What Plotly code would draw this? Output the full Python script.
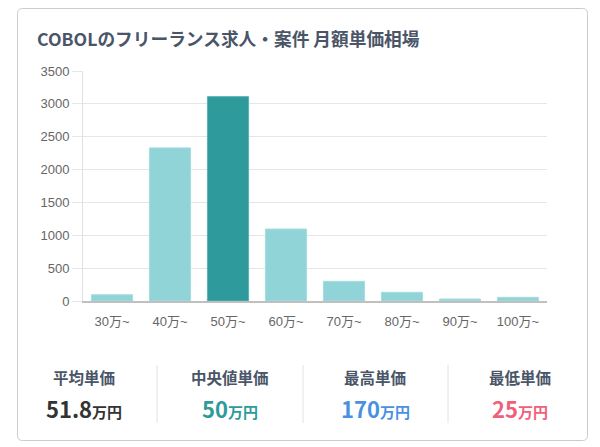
import plotly.graph_objects as go

categories = ["30万~", "40万~", "50万~", "60万~", "70万~", "80万~", "90万~", "100万~"]
counts = [95, 2330, 3110, 1095, 300, 132, 30, 56]
highlight_index = 2
y_ticks = [0, 500, 1000, 1500, 2000, 2500, 3000, 3500]

title_text = "COBOLのフリーランス求人・案件 月額単価相場"
stat_labels = ["平均単価", "中央値単価", "最高単価", "最低単価"]
stat_values = ["51.8", "50", "170", "25"]
stat_unit = "万円"
stat_colors = ["#333333", "#2e9a9c", "#4a90e2", "#f0607a"]

W, H = 600, 447
L, R, T, B = 83, 53, 71, 146
pw, ph = W - L - R, H - T - B

def px(x):
    return (x - L) / pw

def py(y):
    return (H - B - y) / ph

light = "#90d4d8"
dark = "#2e9a9c"
colors = [dark if i == highlight_index else light for i in range(len(categories))]
lines = ["#a6dde0" if i != highlight_index else "#5bb3b5" for i in range(len(categories))]

fig = go.Figure(go.Bar(
    x=categories, y=counts,
    marker=dict(color=colors, line=dict(color=lines, width=1)),
    width=0.71,
    hoverinfo="skip",
))

font_lat = "'Liberation Sans', Arial, 'Noto Sans CJK JP', sans-serif"
font_cjk = "'Noto Sans CJK JP', sans-serif"

fig.update_layout(
    width=W, height=H,
    margin=dict(l=L, r=R, t=T, b=B, pad=0),
    paper_bgcolor="white", plot_bgcolor="white",
    showlegend=False,
    xaxis=dict(
        showgrid=False, showline=True, linecolor="#c0c0c0", linewidth=1.5,
        tickfont=dict(family=font_lat, size=13, color="#666666"),
        ticks="outside", ticklen=8, tickcolor="rgba(0,0,0,0)",
        fixedrange=True,
    ),
    yaxis=dict(
        range=[0, 3500], tickvals=y_ticks, ticktext=[str(v) for v in y_ticks],
        showgrid=True, gridcolor="#e6e6e6", gridwidth=1,
        showline=True, linecolor="#e0e0e0", linewidth=1,
        zeroline=False,
        tickfont=dict(family=font_lat, size=13, color="#666666"),
        ticks="outside", ticklen=10, tickcolor="#e6e6e6", tickwidth=1,
        fixedrange=True,
    ),
)

shapes = []
x0, x1, y0, y1, r = 17.5, 587.5, 8.5, 440.5, 5
path = (f"M {px(x0+r)},{py(y0)} L {px(x1-r)},{py(y0)} "
        f"Q {px(x1)},{py(y0)} {px(x1)},{py(y0+r)} "
        f"L {px(x1)},{py(y1-r)} Q {px(x1)},{py(y1)} {px(x1-r)},{py(y1)} "
        f"L {px(x0+r)},{py(y1)} Q {px(x0)},{py(y1)} {px(x0)},{py(y1-r)} "
        f"L {px(x0)},{py(y0+r)} Q {px(x0)},{py(y0)} {px(x0+r)},{py(y0)} Z")
shapes.append(dict(type="path", path=path, xref="paper", yref="paper",
                   line=dict(color="#c8cccc", width=1), layer="below"))
for dx in [157, 303, 448]:
    shapes.append(dict(type="line", xref="paper", yref="paper",
                       x0=px(dx), x1=px(dx), y0=py(365), y1=py(423),
                       line=dict(color="#e2e2e2", width=1)))
fig.update_layout(shapes=shapes)

ann = []
ann.append(dict(text=f"<b>{title_text}</b>", x=px(35), y=py(38), xref="paper", yref="paper",
                xanchor="left", yanchor="middle", showarrow=False,
                font=dict(family=font_cjk, size=17.7, color="#4a5568")))
centers = [84, 230, 375, 520]
for cx, lab, val, col in zip(centers, stat_labels, stat_values, stat_colors):
    ann.append(dict(text=f"<b>{lab}</b>", x=px(cx), y=py(377), xref="paper", yref="paper",
                    xanchor="center", yanchor="middle", showarrow=False,
                    font=dict(family=font_cjk, size=15.5, color="#4a5568")))
    ann.append(dict(text=f"<b>{val}<span style='font-size:15px'>{stat_unit}</span></b>",
                    x=px(cx), y=py(408), xref="paper", yref="paper",
                    xanchor="center", yanchor="middle", showarrow=False,
                    font=dict(family=font_cjk, size=22, color=col)))
fig.update_layout(annotations=ann)

fig.write_html("out.html", config={"displayModeBar": False})
